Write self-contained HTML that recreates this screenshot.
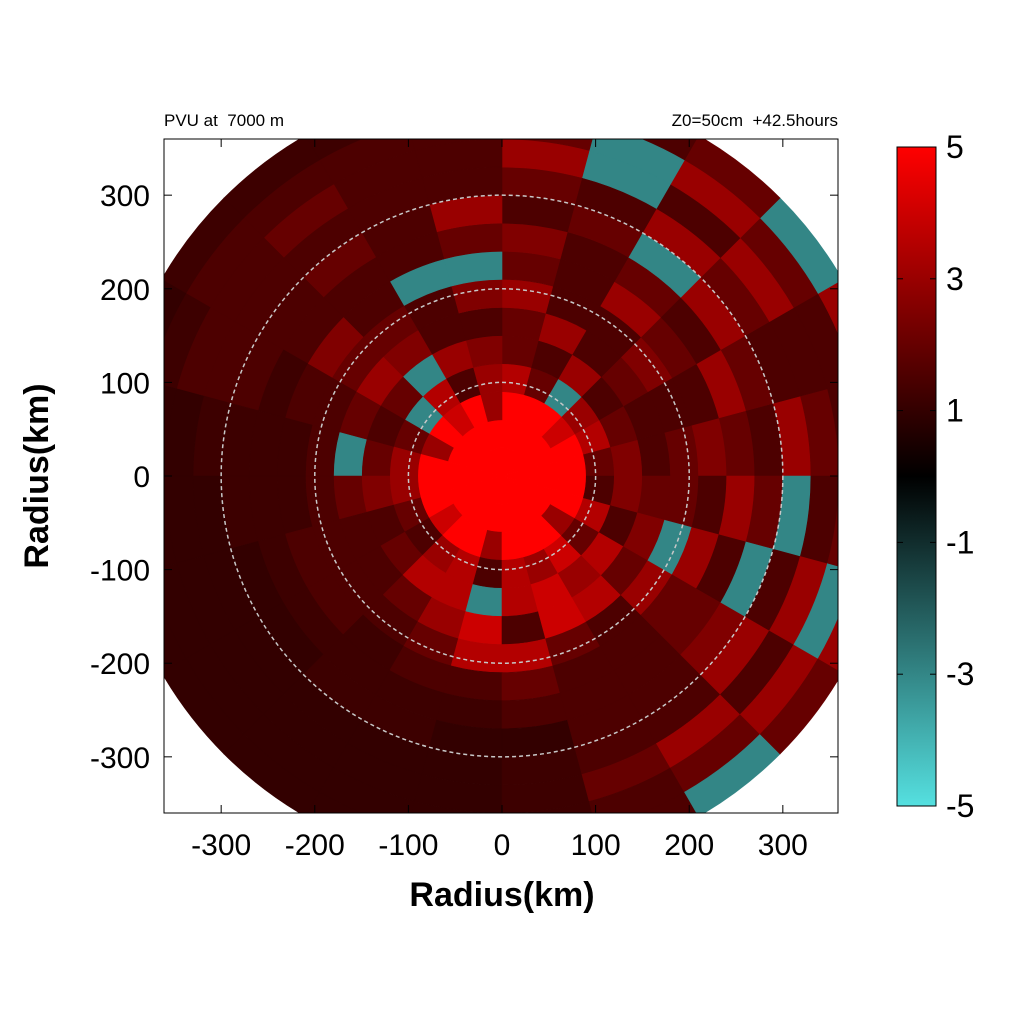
<!DOCTYPE html>
<html><head><meta charset="utf-8"><style>
body{margin:0;background:#fff}
svg text{font-family:"Liberation Sans",sans-serif;white-space:pre}
</style></head><body>
<svg id="chart" width="1024" height="1024" viewBox="0 0 1024 1024" xmlns="http://www.w3.org/2000/svg">
<defs>
<clipPath id="pc"><rect x="164" y="139" width="674" height="674"/></clipPath>
<linearGradient id="cbg" x1="0" y1="1" x2="0" y2="0">
<stop offset="0" stop-color="#55e0e0"/><stop offset="0.5" stop-color="#000"/><stop offset="1" stop-color="#ff0000"/>
</linearGradient>
</defs>
<rect x="0" y="0" width="1024" height="1024" fill="#fff"/>
<g id="cells" clip-path="url(#pc)"></g>
<g id="rings" clip-path="url(#pc)"></g>
<rect x="164" y="139" width="674" height="674" fill="none" stroke="#000" stroke-width="1"/>
<g id="axes"></g>
<text x="164" y="126" font-size="17" xml:space="preserve">PVU at  7000 m</text>
<text x="838" y="126" font-size="17" text-anchor="end" xml:space="preserve">Z0=50cm  +42.5hours</text>
<text x="502" y="906" font-size="34" font-weight="bold" text-anchor="middle">Radius(km)</text>
<text x="0" y="0" font-size="34" font-weight="bold" text-anchor="middle" transform="translate(48,476) rotate(-90)">Radius(km)</text>
<rect x="897" y="147" width="39" height="659" fill="url(#cbg)" stroke="#000" stroke-width="1"/>
<g id="cbticks"></g>
</svg>
<script>
const ringEdges=[0,30,60,90,120,150,180,210,240,270,300,330,360,390,420];
const sectorCount=24;
const ring0=[5,5,5,5,5,5,5,5,5,5,5,5,5,5,5,5,5,5,5,5,5,5,5,5];
const ring1=[5,5,5,5,5,5,5,5,5,5,5,5,5,5,5,5,5,5,5,5,5,5,5,5];
const ring2=[5,5,4,5,5,5,3,5,4,5,3,5,5,5,4,5,5,3,5,5,5,3,5,5];
const ring3=[2,3.5,3,-3,2,3.5,3,1.5,3.5,-3,2,3,3,2,1.5,3,3.5,1.5,3.5,3,4,2,3.5,1.5];
const ring4=[2.5,2,1.5,3,1.5,2,2.5,3,-3,2,1.5,2,2.5,1.5,2,3.5,3.5,-3,3.5,4,3,3.5,1.5,2.5];
const ring5=[1.5,1.5,2,1.5,3,2,1.5,1.5,2.5,3,2,-3,2,1.5,1.5,2,3,4,1.5,4,3.5,2,2.5,2];
const ring6=[2,1.5,2.5,1.5,1.5,3,2.5,1.5,2,2,1.5,1.5,1.5,1.5,1.5,1.5,2,3.5,3.5,2,1.5,3,-3,2];
const ring7=[2.5,1.5,2,3,1.5,2,-3,-3,1.5,2.5,1.5,1.2,1.2,1.5,1.5,1.2,1.5,1.5,2,1.5,1.5,2,3,1.5];
const ring8=[2,3,1.5,2,1.5,2.5,2,1.5,1.5,1.5,1.2,1.2,1.2,1.2,1.2,1.2,1.2,1.2,1.5,1.5,1.5,2,1.5,3];
const ring9=[1.5,2,3,-3,2,1.5,3,1.5,2,1.5,1.5,1.2,1.2,1,1,1.2,1.2,1,1,1.5,1.5,2.5,-3,2];
const ring10=[3,1.5,2,3,1.5,2,1.5,1.5,1.5,1.5,1.5,1.2,1,1,1,1,1,1,1.2,1.5,1.5,3,1.5,-3];
const ring11=[2,1.5,3,1.5,-3,3,1.5,1.5,2,1.5,1.5,1,1,1,1,1,1,1,1.2,2,3,1.5,3,1.5];
const ring12=[1.5,1.5,2,3,-3,2,1.5,1.5,1.5,1.5,1.2,1,1,1,1,1,1,1,1.2,1.5,2,3,-3,2];
const ring13=[2,3,-3,2,1.5,1.5,1.5,1.2,1.2,1.2,1,1,1,1,1,1,1,1,1,1.5,-3,2,3,1.5];
const ringValues=[ring0,ring1,ring2,ring3,ring4,ring5,ring6,ring7,ring8,ring9,ring10,ring11,ring12,ring13];
const xTicks=[-300,-200,-100,0,100,200,300];
const yTicks=[-300,-200,-100,0,100,200,300];
const cbTicks=[5,3,1,-1,-3,-5];
const circleRadii=[100,200,300];

const NS="http://www.w3.org/2000/svg";
const K=674/720;
const sx=v=>502+v*K, sy=v=>476-v*K, sr=v=>v*K;
const cbY=v=>806-(v+5)/10*659;
function color(v){
  v=Math.max(-5,Math.min(5,v));
  if(v>=0){return `rgb(${Math.round(255*v/5)},0,0)`;}
  const t=-v/5;return `rgb(${Math.round(85*t)},${Math.round(224*t)},${Math.round(224*t)})`;
}
const cells=document.getElementById('cells');
const dA=2*Math.PI/sectorCount;
ringValues.forEach((ring,i)=>{
  const r0=sr(ringEdges[i]), r1=sr(ringEdges[i+1]);
  ring.forEach((v,k)=>{
    const a0=k*dA, a1=(k+1)*dA;
    const cx=sx(0), cy=sy(0);
    const p=(r,a)=>`${cx+r*Math.cos(a)},${cy-r*Math.sin(a)}`;
    let d=`M${p(r1,a0)} A${r1},${r1} 0 0 0 ${p(r1,a1)} L${p(r0,a1)}`;
    if(r0>0) d+=` A${r0},${r0} 0 0 1 ${p(r0,a0)}`;
    d+='Z';
    const el=document.createElementNS(NS,'path');
    el.setAttribute('d',d);el.setAttribute('fill',color(v));
    el.setAttribute('stroke',color(v));el.setAttribute('stroke-width','0.6');
    
    
    cells.appendChild(el);
  });
});
const rings=document.getElementById('rings');
circleRadii.forEach(r=>{
  const c=document.createElementNS(NS,'circle');
  c.setAttribute('cx',sx(0));c.setAttribute('cy',sy(0));c.setAttribute('r',sr(r));
  c.setAttribute('fill','none');c.setAttribute('stroke','#c8c8c8');c.setAttribute('stroke-width','1.5');c.setAttribute('stroke-dasharray','4,3');
  
  
  rings.appendChild(c);
});
const axes=document.getElementById('axes');
function line(x1,y1,x2,y2,g){const l=document.createElementNS(NS,'line');l.setAttribute('x1',x1);l.setAttribute('y1',y1);l.setAttribute('x2',x2);l.setAttribute('y2',y2);l.setAttribute('stroke','#000');l.setAttribute('stroke-width','1');


g.appendChild(l);}
function text(x,y,s,anchor,size,g,name){const t=document.createElementNS(NS,'text');t.setAttribute('x',x);t.setAttribute('y',y);t.setAttribute('font-size',size);t.setAttribute('text-anchor',anchor);t.textContent=s;


g.appendChild(t);}
xTicks.forEach(v=>{const x=sx(v);line(x,813,x,805,axes);line(x,139,x,147,axes);text(x,855,String(v),'middle',30,axes,'x-tick-label');});
yTicks.forEach(v=>{const y=sy(v);line(164,y,172,y,axes);line(838,y,830,y,axes);text(150,y+11,String(v),'end',30,axes,'y-tick-label');});
const cbg=document.getElementById('cbticks');
cbTicks.forEach(v=>{const y=cbY(v);line(897,y,903,y,cbg);line(936,y,930,y,cbg);text(946,y+11,String(v),'start',32,cbg,'colorbar-tick-label');});
</script>
</body></html>
